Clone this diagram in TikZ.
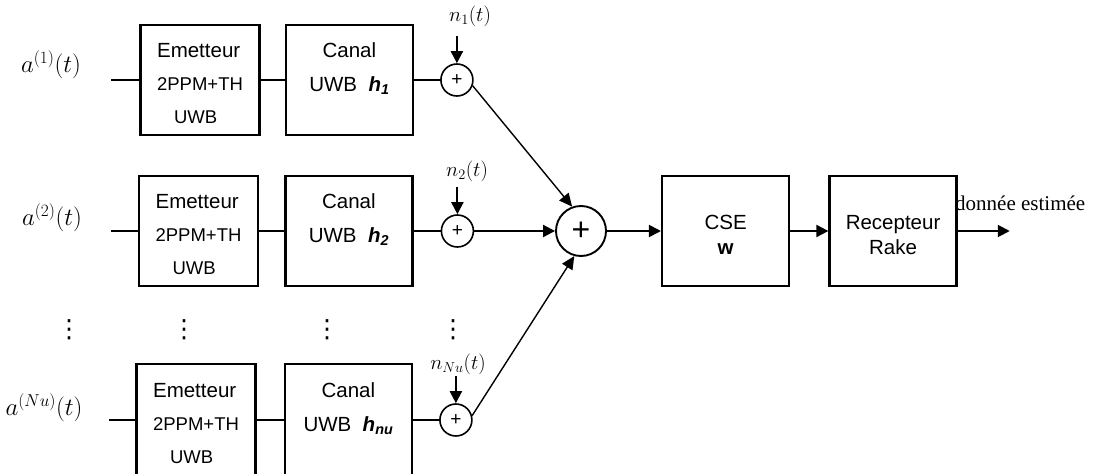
\documentclass[tikz,border=0pt]{standalone}
\usepackage[no-math]{fontspec}
\setmainfont{Liberation Sans}
\newfontfamily\serifout{Liberation Serif}
\newfontfamily\symbfont{DejaVu Sans}
\usetikzlibrary{positioning}
\usetikzlibrary{arrows.meta}

% pushes the lines of a box a little down
\newcommand{\topgap}{\rule{0pt}{22pt}}

\begin{document}
\begin{tikzpicture}[
x=1pt, y=-1pt,
emet/.style ={rectangle, draw, line width=2.4pt,
  minimum width=119pt, minimum height=110pt,
  align=left, font=\fontsize{18.5}{33}\selectfont},
canal/.style ={rectangle, draw, line width=2.4pt,
  minimum width=127pt, minimum height=110pt,
  align=center, font=\fontsize{20.5}{34}\selectfont},
bloc/.style ={rectangle, draw, line width=2.4pt,
  minimum width=127pt, minimum height=110pt,
  align=center, font=\fontsize{20.5}{25}\selectfont},
som/.style ={circle, draw, line width=1.6pt, minimum size=32pt,
  inner sep=0pt, font=\fontsize{19}{19}\selectfont},
bigsom/.style ={circle, draw, line width=1.9pt, minimum size=50pt,
  inner sep=0pt, font=\fontsize{32}{32}\selectfont},
lbl/.style ={font=\fontsize{25}{27}\selectfont},
nlbl/.style ={font=\fontsize{22}{24}\selectfont},
dots/.style ={font=\symbfont\fontsize{25}{25}\selectfont, inner sep=0pt},
line/.style ={draw, line width=2pt},
arr/.style ={draw, line width=2pt, -{Triangle[length=12pt,width=12pt]}},
thinarr/.style ={draw, line width=1.4pt, -{Triangle[length=13pt,width=12pt]}}
]
\useasboundingbox (0,0) rectangle (1101,474);

% user 1
\node[emet] (em1) at (200,80) {\topgap{\fontsize{20.5}{33}\selectfont Emetteur}\\2PPM+TH\\\hspace*{17pt}UWB};
\node[canal] (ca1) [right=24pt of em1] {\topgap Canal\\UWB~~\textbf{\textit{h\textsubscript{1}}}\\\mbox{}};
\node[som] (s1) [right=26pt of ca1] {+};
\node[lbl] (a1) at (51,65) {$a^{(1)}(t)$};
\node[nlbl] (n1) at (470,16) {$n_1(t)$};
\coordinate (i1) at (111,80);
\coordinate[above=27pt of s1] (t1);

% user 2
\node[emet] (em2) at (198.5,231) {\topgap{\fontsize{20.5}{33}\selectfont Emetteur}\\2PPM+TH\\\hspace*{17pt}UWB};
\node[canal] (ca2) [right=25pt of em2] {\topgap Canal\\UWB~~\textbf{\textit{h\textsubscript{2}}}\\\mbox{}};
\node[som] (s2) [right=27pt of ca2] {+};
\node[lbl] (a2) at (52,218) {$a^{(2)}(t)$};
\node[nlbl] (n2) at (467,171) {$n_2(t)$};
\coordinate (i2) at (111,231);
\coordinate[above=27pt of s2] (t2);

% dots
\node[dots] (d1) at (69,330) {⋮};
\node[dots] (d2) at (184,330) {⋮};
\node[dots] (d3) at (327,330) {⋮};
\node[dots] (d4) at (453,330) {⋮};

% user Nu
\node[emet, minimum height=112pt] (em3) at (196,420) {\topgap{\fontsize{20.5}{33}\selectfont Emetteur}\\2PPM+TH\\\hspace*{17pt}UWB};
\node[canal, minimum height=112pt] (ca3) [right=27pt of em3] {\topgap Canal\\UWB~~\textbf{\textit{h\textsubscript{nu}}}\\\mbox{}};
\node[som] (s3) [right=26pt of ca3] {+};
\node[lbl] (a3) at (44,408) {$a^{(Nu)}(t)$};
\node[nlbl] (n3) at (458,364) {$n_{Nu}(t)$};
\coordinate (i3) at (109,420);
\coordinate[above=27pt of s3] (t3);

% reception
\node[bigsom] (sum) at (581,231) {+};
\node[bloc] (cse) [right=54pt of sum] {\topgap CSE\\\textbf{w}};
\node[bloc] (rec) [right=38pt of cse] {\topgap Recepteur\\Rake};
\coordinate[right=52pt of rec] (out);
\node[anchor=base west, inner sep=0pt, font=\serifout\fontsize{21}{24}\selectfont] (est) at (955,210) {donnée estimée};

\path[line]
(i1) -- (em1) (em1) -- (ca1) (ca1) -- (s1)
(i2) -- (em2) (em2) -- (ca2) (ca2) -- (s2)
(i3) -- (em3) (em3) -- (ca3) (ca3) -- (s3)
;
\path[arr] (t1) -- (s1);
\path[arr] (t2) -- (s2);
\path[arr] (t3) -- (s3);
\path[thinarr] (s1.-20) -- (sum.110);
\path[thinarr] (s3.15) -- (sum.-105);
\path[arr] (s2) -- (sum);
\path[arr] (sum) -- (cse);
\path[arr] (cse) -- (rec);
\path[arr] (rec) -- (out);
\end{tikzpicture}
\end{document}
